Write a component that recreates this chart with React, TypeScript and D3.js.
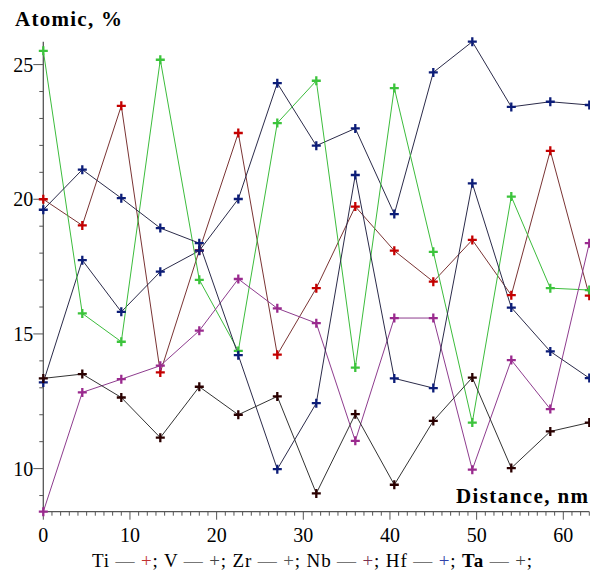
import * as d3 from "d3";
import React, { useEffect, useRef } from "react";

// distance along the profile, nm
const distance = [0, 4.5, 9, 13.5, 18, 22.5, 27, 31.5, 36, 40.5, 45, 49.5, 54, 58.5, 63];

// atomic %
const ti = [20.0, 19.03, 23.47, 13.57, 18.1, 22.46, 14.23, 16.7, 19.73, 18.09, 16.94, 18.49, 16.44, 21.8, 16.42];
const v = [13.2, 17.74, 15.82, 17.31, 18.09, 20.01, 24.31, 21.99, 22.63, 19.45, 24.71, 25.85, 23.43, 23.62, 23.5];
const zr = [25.51, 15.76, 14.71, 25.18, 17.01, 14.37, 22.83, 24.4, 13.75, 24.13, 18.05, 11.71, 20.1, 16.7, 16.63];
const nb = [8.4, 12.83, 13.32, 13.82, 15.12, 17.04, 15.95, 15.4, 11.03, 15.59, 15.59, 9.96, 14.03, 12.21, 18.37];
const hf = [19.61, 21.1, 20.04, 18.93, 18.37, 14.21, 9.98, 12.43, 20.9, 13.35, 12.99, 20.59, 15.98, 14.35, 13.36];
const ta = [13.35, 13.51, 12.64, 11.15, 13.04, 12.0, 12.68, 9.08, 12.02, 9.4, 11.77, 13.38, 10.02, 11.38, 11.71];

const elements = ["Ti", "V", "Zr", "Nb", "Hf", "Ta"];
const xTicks = [0, 10, 20, 30, 40, 50, 60];
const yTicks = [10, 15, 20, 25];

const series = [
    { name: "Ti", values: ti, line: "#7a3434", mark: "#c40000", legend: "#c03030" },
    { name: "V", values: v, line: "#2b2b4a", mark: "#0c1d78", legend: "#444" },
    { name: "Zr", values: zr, line: "#3cbc3c", mark: "#3cc43c", legend: "#555" },
    { name: "Nb", values: nb, line: "#8e3c8e", mark: "#9a2a8e", legend: "#7a3050" },
    { name: "Hf", values: hf, line: "#2b2b4a", mark: "#0c1d78", legend: "#3040a8" },
    { name: "Ta", values: ta, line: "#333", mark: "#2a0000", legend: "#444" },
];

const W = 590;
const H = 574;
const FONT = "'Liberation Serif', 'Times New Roman', serif";

export default function App() {
    const wrapper = useRef<SVGSVGElement>(null);

    useEffect(() => {
        const svg = d3.select(wrapper.current);
        svg.selectAll("*").remove();

        const all = series.flatMap((s) => s.values);
        const [ymin, ymax] = d3.extent(all) as [number, number];

        const x = d3.scaleLinear().domain([0, 63]).range([43.3, 589.3]);
        const y = d3.scaleLinear().domain([ymin, ymax]).range([511.7, 41.7]);

        const axis = svg.append("g").attr("stroke", "#555").attr("fill", "none");

        // y axis
        axis.append("line")
            .attr("x1", x(0)).attr("x2", x(0))
            .attr("y1", y(ymin)).attr("y2", y(ymax))
            .attr("stroke-width", 1.3);
        axis.selectAll(null)
            .data(d3.range(Math.ceil(ymin), Math.floor(ymax) + 1))
            .enter()
            .append("line")
            .attr("x1", (d) => x(0) - (d % 5 === 0 ? 10 : 4))
            .attr("x2", x(0))
            .attr("y1", (d) => y(d)).attr("y2", (d) => y(d));

        // x axis
        axis.append("line")
            .attr("x1", x(0)).attr("x2", x(63))
            .attr("y1", y(ymin)).attr("y2", y(ymin))
            .attr("stroke-width", 1.3);
        axis.selectAll(null)
            .data(d3.range(0, 64))
            .enter()
            .append("line")
            .attr("x1", (d) => x(d)).attr("x2", (d) => x(d))
            .attr("y1", y(ymin))
            .attr("y2", (d) => y(ymin) + (d % 10 === 0 ? 8 : 4));

        svg.selectAll(null)
            .data(yTicks)
            .enter()
            .append("text")
            .attr("x", x(0) - 10)
            .attr("y", (d) => y(d))
            .attr("dy", "0.35em")
            .attr("text-anchor", "end")
            .style("font", `20px ${FONT}`)
            .text((d) => d);

        svg.selectAll(null)
            .data(xTicks)
            .enter()
            .append("text")
            .attr("x", (d) => x(d))
            .attr("y", 542)
            .attr("text-anchor", "middle")
            .style("font", `20px ${FONT}`)
            .text((d) => d);

        svg.append("text")
            .attr("x", 15).attr("y", 26)
            .style("font", `bold 21px ${FONT}`)
            .attr("textLength", 107)
            .text("Atomic, %");

        svg.append("text")
            .attr("x", 456).attr("y", 503)
            .style("font", `bold 21px ${FONT}`)
            .attr("textLength", 132)
            .text("Distance, nm");

        // lines and markers
        const line = d3.line<number>()
            .x((_, i) => x(distance[i]))
            .y((d) => y(d));

        const g = svg.append("g");
        series.forEach((s) => {
            g.append("path")
                .attr("d", line(s.values))
                .attr("fill", "none")
                .attr("stroke", s.line)
                .attr("stroke-width", 1);
        });
        series.forEach((s) => {
            g.selectAll(null)
                .data(s.values)
                .enter()
                .append("path")
                .attr("d", (d, i) => {
                    const px = x(distance[i]);
                    const py = y(d);
                    return `M${px - 4.5},${py}H${px + 4.5}M${px},${py - 4.5}V${py + 4.5}`;
                })
                .attr("stroke", s.mark)
                .attr("stroke-width", 2.3);
        });

        // legend
        const legend = svg.append("text")
            .attr("x", 92).attr("y", 567)
            .attr("textLength", 440)
            .style("font", `19px ${FONT}`);
        elements.forEach((name, i) => {
            const s = series[i];
            legend.append("tspan").text(name + " ")
                .style("font-weight", name === "Ta" ? "bold" : "normal");
            legend.append("tspan").attr("fill", "#777").text("— ");
            legend.append("tspan").attr("fill", s.legend).text("+");
            legend.append("tspan").text(i < elements.length - 1 ? "; " : ";");
        });
    }, []);

    return (
        <svg
            ref={wrapper}
            width={W}
            height={H}
            style={{ position: "absolute", left: 0, top: 0, background: "#fff" }}
        />
    );
}
